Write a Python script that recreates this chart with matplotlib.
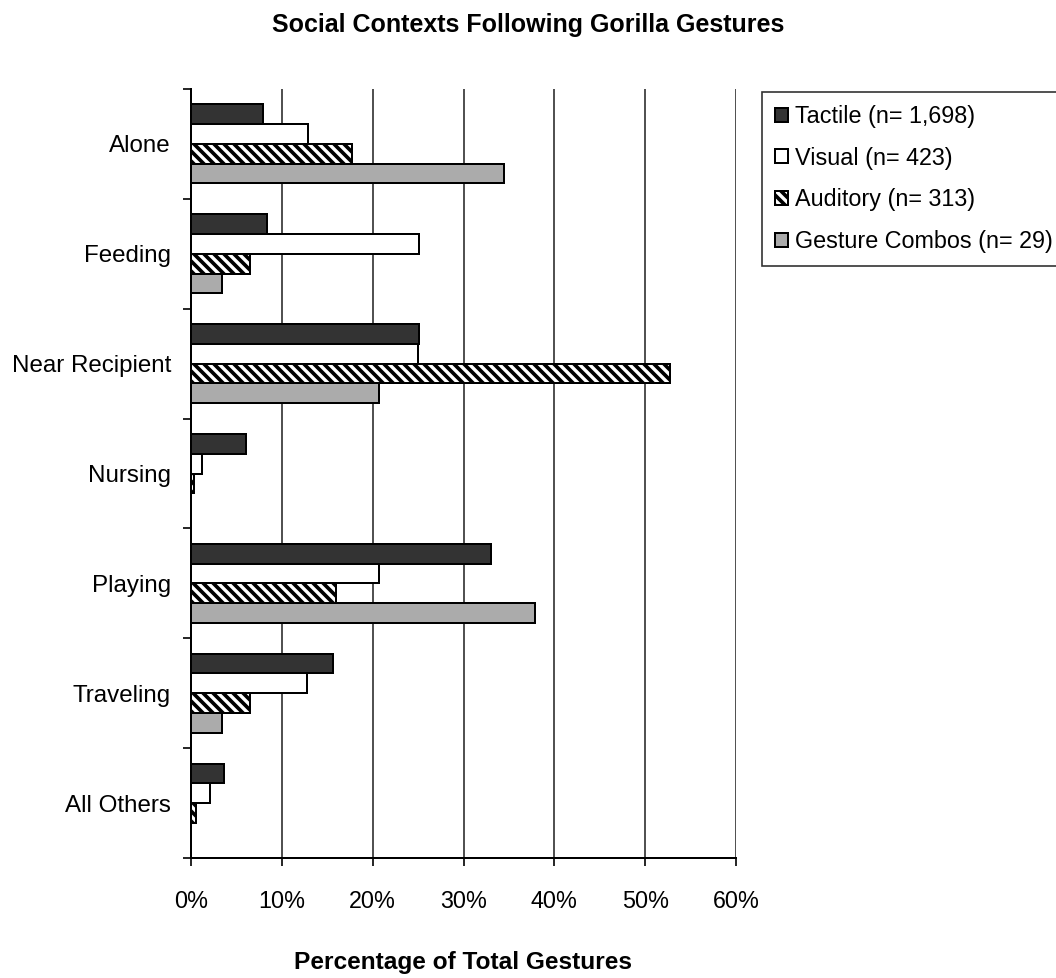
import numpy as np
import matplotlib
matplotlib.use("Agg")
import matplotlib.pyplot as plt
from matplotlib.ticker import FixedLocator, FuncFormatter

plt.rcParams['font.family'] = ['Liberation Sans', 'DejaVu Sans']
plt.rcParams['hatch.linewidth'] = 2.2

# percentage of gestures in each social context
contexts = ["Alone", "Feeding", "Near Recipient", "Nursing", "Playing", "Traveling", "All Others"]
tactile = [7.9, 8.4, 25.1, 6.1, 33.0, 15.6, 3.6]
visual = [12.9, 25.1, 25.0, 1.2, 20.7, 12.8, 2.1]
auditory = [17.7, 6.5, 52.7, 0.3, 16.0, 6.5, 0.6]
combos = [34.5, 3.4, 20.7, 0.0, 37.9, 3.4, 0.0]
series_labels = ["Tactile (n= 1,698)", "Visual (n= 423)", "Auditory (n= 313)", "Gesture Combos (n= 29)"]

fig = plt.figure(figsize=(8.8, 8.15), dpi=120)
ax = fig.add_axes([191/1056, 1-858/978, (736-191)/1056, (858-89)/978])

y = np.arange(len(contexts))
h = 0.18
styles = [dict(color="#333333"), dict(color="white"),
          dict(color="white", hatch="\\\\\\\\"), dict(color="#ababab")]
for i, (vals, st, lab) in enumerate(zip([tactile, visual, auditory, combos], styles, series_labels)):
    ax.barh(y + (i - 1.5) * h, vals, height=h, edgecolor="black", linewidth=1.2,
            label=lab, zorder=3, **st)

ax.set_xlim(0, 60)
ax.set_ylim(len(contexts) - 0.5, -0.5)

ax.xaxis.set_major_locator(FixedLocator(np.arange(0, 61, 10)))
ax.xaxis.set_major_formatter(FuncFormatter(lambda v, p: f"{v:.0f}%"))
ax.grid(axis="x", color="#303030", linewidth=1.0, zorder=0)
ax.tick_params(axis="x", length=5, width=1, direction="out", labelsize=14, pad=14)

# ticks between the groups, labels at the group centres
ax.yaxis.set_major_locator(FixedLocator(np.arange(-0.5, len(contexts), 1.0)))
ax.yaxis.set_major_formatter(FuncFormatter(lambda v, p: ""))
ax.yaxis.set_minor_locator(FixedLocator(y))
ax.set_yticklabels(contexts, minor=True)
ax.tick_params(axis="y", which="major", length=5, width=1, direction="out")
ax.tick_params(axis="y", which="minor", length=0, labelsize=14.5, pad=12)

for s in ["top", "right"]:
    ax.spines[s].set_visible(False)
ax.spines["left"].set_linewidth(1.2)
ax.spines["bottom"].set_linewidth(1.2)

fig.text(0.5, 1-25/978, "Social Contexts Following Gorilla Gestures",
         ha="center", va="center", fontsize=15, fontweight="bold")
fig.text(463/1056, 1-962/978, "Percentage of Total Gestures",
         ha="center", va="center", fontsize=14.7, fontweight="bold")

leg = ax.legend(loc="upper left", bbox_to_anchor=(762/1056, 1-92/978),
                bbox_transform=fig.transFigure, fontsize=14, frameon=True,
                fancybox=False, edgecolor="black", borderaxespad=0,
                handlelength=0.55, handleheight=0.55, handletextpad=0.3,
                labelspacing=0.8, borderpad=0.55)
leg.get_frame().set_linewidth(1.0)

fig.savefig("out.png", dpi=120)
